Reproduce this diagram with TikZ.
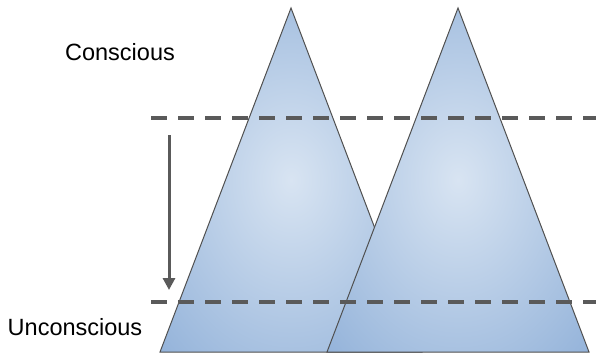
\documentclass[tikz,border=0pt]{standalone}
\usepackage{fontspec}
\setmainfont{Liberation Sans}
\usetikzlibrary{arrows.meta,positioning}
\definecolor{tri in}{HTML}{D8E4F2}
\definecolor{tri out}{HTML}{789FD0}
\definecolor{tri edge}{HTML}{505050}
\definecolor{level gray}{HTML}{5A5A5A}
\pgfdeclareradialshading{triglow}{\pgfpoint{0bp}{0bp}}{color(0bp)=(tri in); color(50bp)=(tri out)}

\begin{document}
\begin{tikzpicture}[x=1pt,y=-1pt,>=Latex,
mountain/.style={shading=triglow,draw=tri edge,line width=1pt,line join=miter},
level line/.style={draw=level gray,line width=4pt,dash pattern=on 16pt off 11pt},
sink/.style={-{Triangle[length=12pt,width=12pt]},draw=level gray,line width=3pt},
layer label/.style={font=\fontsize{23.5}{28}\selectfont,inner sep=0pt,anchor=base}]
\useasboundingbox (0,0) rectangle (596,356);
% first triangle
\coordinate (a top) at (291,8);
\coordinate (a left) at (160,352);
\coordinate (a right) at (422,352);
% second triangle, in front
\coordinate (b top) at (458,8);
\coordinate (b left) at (327,352);
\coordinate (b right) at (589,352);
\shade[mountain] (a left) -- (a top) -- (a right) -- cycle;
\shade[mountain] (b left) -- (b top) -- (b right) -- cycle;
% levels
\coordinate (up start) at (151,118);
\coordinate (up end) at (596,118);
\coordinate (low start) at (151,302);
\coordinate (low end) at (596,302);
\draw[level line] (up start) -- (up end);
\draw[level line] (low start) -- (low end);
\coordinate (drop top) at (169,135);
\coordinate (drop tip) at (169,290);
\draw[sink] (drop top) -- (drop tip);
\node[layer label] (conscious) at (120,60) {Conscious};
\node[layer label] (unconscious) at (75,335) {Unconscious};
\end{tikzpicture}
\end{document}
